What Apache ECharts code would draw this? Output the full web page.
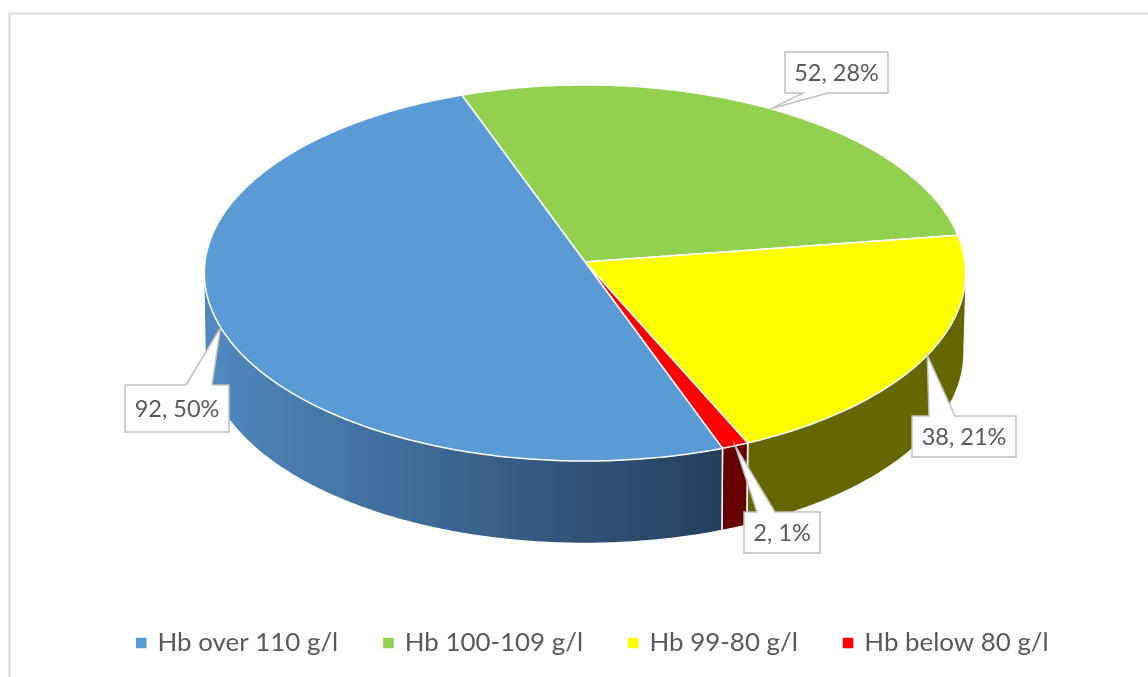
<!DOCTYPE html>
<html>
<head>
<meta charset="utf-8">
<style>html,body{margin:0;padding:0;background:#fff}#c{width:1148px;height:677px}</style>
<script src="https://cdn.jsdelivr.net/npm/echarts@6/dist/echarts.min.js"></script>
</head>
<body>
<div id="c"></div>
<script>
// Data
const categories = ['Hb over 110 g/l', 'Hb 100-109 g/l', 'Hb 99-80 g/l', 'Hb below 80 g/l'];
const values = [92, 52, 38, 2];
const percentLabels = ['50%', '28%', '21%', '1%'];

// Styles
const topColors = ['#5b9bd5', '#92d050', '#ffff00', '#ff0000'];
const sideColors = [null, '#4c7a2a', '#666600', '#660000'];
const textColor = '#595959';
const fontFamily = 'Lato, "Open Sans", sans-serif';
const labelBoxes = [[125, 385, 104, 47, 186, 212], [785, 52, 103, 41, 803, 828], [912, 416, 104, 41, 929, 955], [744, 512, 76, 41, 757, 775]];

// Perspective projection of the pie disc
const startAngle = 160;
const topRim = { cx: 585, cy: 262, a: 380, b: 187.4, k: 0.0584 };
const lowRim = { cx: 584.5, cy: 341, a: 378, b: 189, k: 0.063 };
const total = values.reduce((s, v) => s + v, 0);
const visibleFrom = 93.4, visibleTo = 266.6;

function project(rim, deg) {
  const t = deg * Math.PI / 180, u = Math.sin(t), v = -Math.cos(t);
  const w = 1 - rim.k * v;
  return [rim.cx + rim.a * u / w, rim.cy + rim.b * v / w];
}
function arc(rim, from, to) {
  const n = Math.max(2, Math.ceil(Math.abs(to - from) * 1.5)), pts = [];
  for (let i = 0; i <= n; i++) pts.push(project(rim, from + (to - from) * i / n));
  return pts;
}
function angleRange(index) {
  let before = 0;
  for (let i = 0; i < index; i++) before += values[i];
  const from = startAngle + before / total * 360;
  return [from, from + values[index] / total * 360];
}
function sideRanges(from, to) {
  const out = [];
  for (const off of [0, 360, -360]) {
    const a = Math.max(from + off, visibleFrom), b = Math.min(to + off, visibleTo);
    if (b > a) out.push([a, b]);
  }
  return out;
}

function renderFaces(params, api) {
  const idx = params.seriesIndex, [from, to] = angleRange(idx);
  const children = [];
  sideRanges(from, to).forEach(([a, b]) => {
    const points = arc(topRim, a, b).concat(arc(lowRim, b, a));
    const fill = idx === 0
      ? new echarts.graphic.LinearGradient(0, 0, 1, 0, [
          { offset: 0, color: '#5189bf' }, { offset: 1, color: '#243f5c' }])
      : sideColors[idx];
    children.push({ type: 'polygon', shape: { points }, z2: 1, style: { fill } });
    // White seams only where a slice boundary is on the visible wall
    [a, b].forEach(angle => {
      if (angle > visibleFrom && angle < visibleTo) {
        children.push({ type: 'polyline', z2: 2,
          shape: { points: [project(topRim, angle), project(lowRim, angle)] },
          style: { fill: null, stroke: '#fff', lineWidth: 1.5 } });
      }
    });
  });
  const wedge = [[topRim.cx, topRim.cy]].concat(arc(topRim, from, to));
  children.push({ type: 'polygon', shape: { points: wedge }, z2: 3,
    style: { fill: topColors[idx], stroke: '#fff', lineWidth: 1.5, lineJoin: 'round' } });
  return { type: 'group', children };
}

function renderLabel(params, api) {
  const idx = api.value(0);
  const [from, to] = angleRange(idx);
  const tip = project(topRim, (from + to) / 2);
  const [x, y, w, h, b1, b2] = labelBoxes[idx];
  const onTop = tip[1] < y;
  const outline = onTop
    ? [[x, y], [b1, y], tip, [b2, y], [x + w, y], [x + w, y + h], [x, y + h]]
    : [[x, y], [x + w, y], [x + w, y + h], [b2, y + h], tip, [b1, y + h], [x, y + h]];
  return { type: 'group', children: [
    { type: 'polygon', shape: { points: outline }, z2: 5,
      style: { fill: '#fff', stroke: '#bfbfbf', lineWidth: 1.5 } },
    { type: 'text', z2: 6, style: {
        x: x + w / 2, y: y + h / 2 + 1, align: 'center', verticalAlign: 'middle',
        text: values[idx] + ', ' + percentLabels[idx],
        fill: textColor, font: '23.5px ' + fontFamily } }
  ] };
}

const series = categories.map((name, i) => ({
  type: 'custom', name, coordinateSystem: 'none', silent: true, animation: false,
  z: i === 0 ? 3 : 2,
  itemStyle: { color: topColors[i] },
  data: [[i, values[i]]],
  renderItem: renderFaces
}));
series.push({
  type: 'custom', name: 'labels', coordinateSystem: 'none', silent: true, animation: false, z: 10,
  data: values.map((v, i) => [i, v]),
  renderItem: renderLabel
});

const chart = echarts.init(document.getElementById('c'), null, { renderer: 'canvas' });
chart.setOption({
  animation: false,
  backgroundColor: '#fff',
  graphic: [{ type: 'polyline', silent: true, z: 0,
    shape: { points: [[9.5, 677], [9.5, 13.5], [1148, 13.5]] },
    style: { fill: null, stroke: '#d9d9d9', lineWidth: 2 } }],
  legend: {
    data: categories, left: 136, top: 630, icon: 'rect', itemWidth: 10.5, itemHeight: 10.5, itemGap: 45,
    selectedMode: false, padding: 0,
    textStyle: { color: textColor, fontSize: 25.9, fontFamily, padding: [0, 0, 0, 6] }
  },
  series
});
</script>
</body>
</html>
